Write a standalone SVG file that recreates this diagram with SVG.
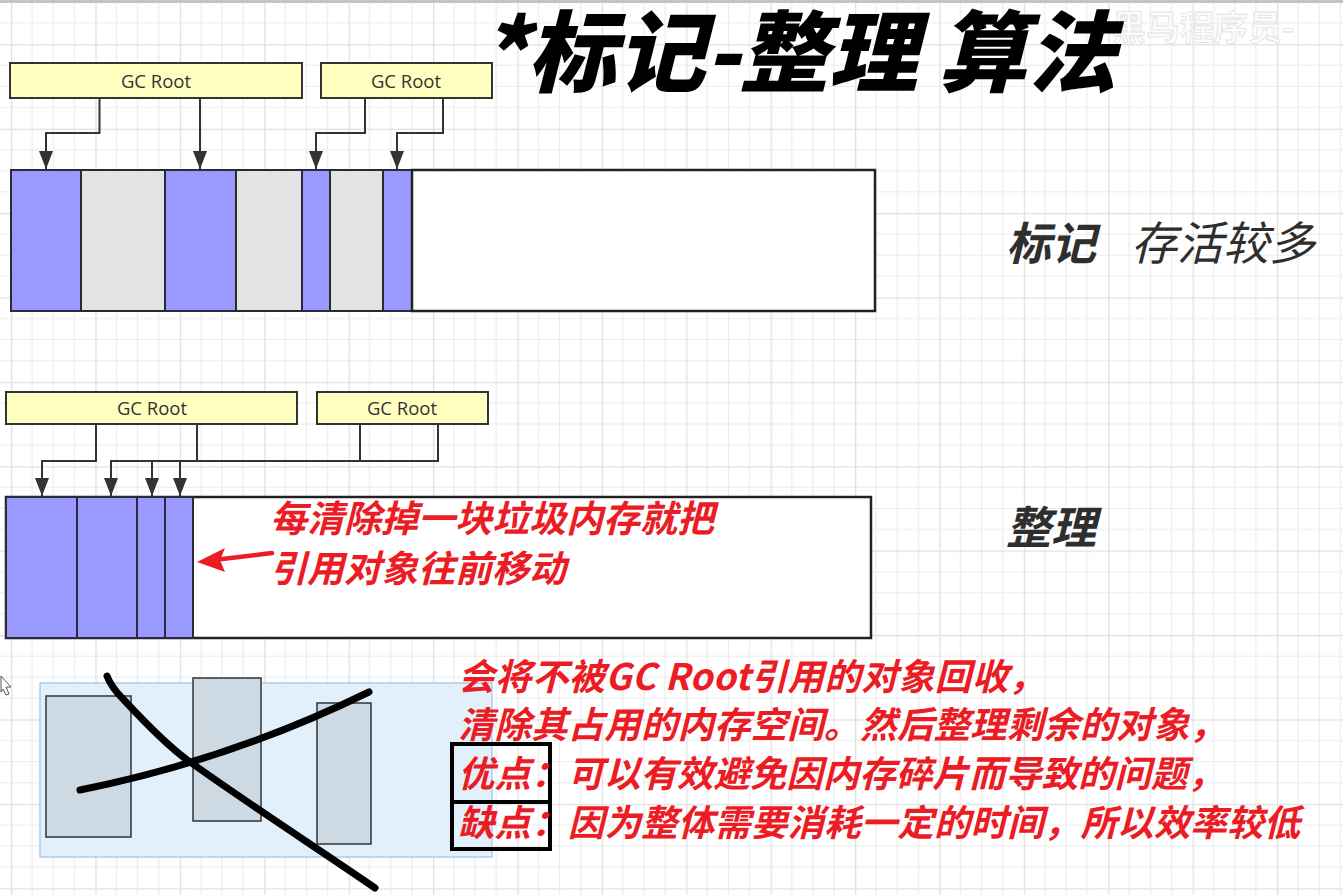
<svg xmlns="http://www.w3.org/2000/svg" width="1343" height="895" viewBox="0 0 1343 895">
<defs>
<pattern id="grid" patternUnits="userSpaceOnUse" x="11" y="44.2" width="84.4" height="84.4">
<path d="M21.1,0V84.4M42.2,0V84.4M63.3,0V84.4M0,21.1H84.4M0,42.2H84.4M0,63.3H84.4" stroke="#ebebeb" stroke-width="1.2" fill="none"/>
<path d="M0.6,0V84.4M0,0.6H84.4" stroke="#e0e0e0" stroke-width="1.4" fill="none"/>
</pattern>
<marker id="ah" viewBox="0 0 18 14" refX="18" refY="7" markerWidth="18" markerHeight="14" markerUnits="userSpaceOnUse" orient="auto">
<path d="M0,0 L18,7 L0,14 z" fill="#333"/>
</marker>
<style>
.root{fill:#ffffc0;stroke:#333;stroke-width:2}
.rt{font-family:"Open Sans","Noto Sans",sans-serif;font-size:18.5px;fill:#333;text-anchor:middle}
.con{fill:none;stroke:#333;stroke-width:2;marker-end:url(#ah)}
.line{fill:none;stroke:#333;stroke-width:2}
.live{fill:#9999ff;stroke:#2a2a3a;stroke-width:2}
.dead{fill:#e3e3e3;stroke:#2a2a2a;stroke-width:2}
.free{fill:#ffffff;stroke:#222;stroke-width:2.5}
.red{font-family:"Noto Sans CJK SC","Noto Sans",sans-serif;font-weight:700;font-style:italic;fill:#ec1c24}
.lbl{font-family:"Noto Sans CJK SC",sans-serif;font-style:italic;fill:#2e2e2e}
.blk{fill:#cdd9e3;stroke:#333;stroke-width:1.5}
.ink{fill:none;stroke:#000;stroke-width:7;stroke-linecap:round;stroke-linejoin:round}
</style>
</defs>
<rect width="1343" height="895" fill="#ffffff"/>
<rect width="1343" height="895" fill="url(#grid)"/>
<rect x="0" y="0" width="1343" height="3" fill="#c4c4c4"/>

<text x="1112" y="40" font-family="Noto Sans CJK SC,sans-serif" font-size="34" font-weight="700" fill="#fcfcfc" stroke="#e2e2e2" stroke-width="0.8">黑马程序员-</text>

<g id="title">
<text transform="translate(480,85) scale(1,1.08)" x="0" y="0" font-family="Noto Sans CJK SC,sans-serif" font-weight="900" font-style="italic" font-size="82" fill="#000" textLength="636" lengthAdjust="spacingAndGlyphs">*标记-整理 算法</text>
</g>

<!-- mark phase -->
<g id="root1"><rect class="root" x="10" y="63" width="292" height="35"/><text class="rt" x="156" y="88">GC Root</text></g>
<g id="root2"><rect class="root" x="321" y="63" width="171" height="35"/><text class="rt" x="406" y="88">GC Root</text></g>

<g id="heap1">
<rect class="live" x="11" y="170" width="70" height="141"/>
<rect class="dead" x="81" y="170" width="84" height="141"/>
<rect class="live" x="165" y="170" width="71" height="141"/>
<rect class="dead" x="236" y="170" width="66" height="141"/>
<rect class="live" x="302" y="170" width="28" height="141"/>
<rect class="dead" x="330" y="170" width="53" height="141"/>
<rect class="live" x="383" y="170" width="29" height="141"/>
<rect class="free" x="412" y="170" width="463" height="141"/>
</g>

<!-- compact phase -->
<g id="root3"><rect class="root" x="6" y="392" width="291" height="32"/><text class="rt" x="152" y="415">GC Root</text></g>
<g id="root4"><rect class="root" x="317" y="392" width="171" height="32"/><text class="rt" x="402" y="415">GC Root</text></g>

<g id="heap2">
<rect class="free" x="6" y="497" width="865" height="141"/>
<rect class="live" x="6" y="497" width="71" height="141"/>
<rect class="live" x="77" y="497" width="60" height="141"/>
<rect class="live" x="137" y="497" width="28" height="141"/>
<rect class="live" x="165" y="497" width="28" height="141"/>
</g>

<g id="connectors">
<path class="con" d="M99.5,98 V133 H46 V169"/>
<path class="con" d="M200,98 V169"/>
<path class="con" d="M365,98 V133 H316 V169"/>
<path class="con" d="M443,98 V133 H397 V169"/>
<path class="con" d="M96,424 V461 H42 V496"/>
<path class="line" d="M197,424 V461"/>
<path class="line" d="M360,424 V461"/>
<path class="con" d="M438,424 V461 H111 V496"/>
<path class="con" d="M152,461 V496"/>
<path class="con" d="M180,461 V496"/>
</g>

<g id="labels">
<text class="lbl" x="1006" y="260" font-size="45" font-weight="700">标记</text>
<text class="lbl" x="1131" y="260" font-size="46" font-weight="400">存活较多</text>
<text class="lbl" x="1006" y="544" font-size="45" font-weight="700">整理</text>
</g>

<g id="note1">
<path d="M272,553 L214,560" stroke="#ec1c24" stroke-width="4.5" fill="none" stroke-linecap="round"/>
<path d="M197,562 L225,548 L220,560 L225,572 z" fill="#ec1c24"/>
<text class="red" x="270" y="532" font-size="37">每清除掉一块垃圾内存就把</text>
<text class="red" x="270" y="582" font-size="37">引用对象往前移动</text>
</g>

<g id="crossed">
<rect x="40" y="683" width="452" height="174" fill="#e2f0fb" stroke="#9cc4e6" stroke-width="1.2"/>
<rect class="blk" x="46" y="696" width="85" height="141"/>
<rect class="blk" x="193" y="678" width="68" height="143"/>
<rect class="blk" x="317" y="703" width="54" height="141"/>
<path class="ink" d="M107,676 C110,684 114,690 124,700 C150,728 170,748 190,762 C250,805 320,850 375,888"/>
<path class="ink" d="M80,790 Q230,760 369,692"/>
</g>

<path d="M1,676 L11,687 L6,687 L9,694 L6,695 L3,689 L1,692 z" fill="#fff" stroke="#555" stroke-width="1"/>

<g id="note2">
<rect x="452" y="744" width="98" height="58" fill="none" stroke="#000" stroke-width="4"/>
<rect x="452" y="802" width="98" height="47" fill="none" stroke="#000" stroke-width="4"/>
<text class="red" x="458" y="690" font-size="36.5" textLength="587">会将不被GC Root引用的对象回收，</text>
<text class="red" x="458" y="738" font-size="36.5" textLength="768">清除其占用的内存空间。然后整理剩余的对象，</text>
<text class="red" x="458" y="787" font-size="36.5" textLength="766">优点：可以有效避免因内存碎片而导致的问题，</text>
<text class="red" x="458" y="836" font-size="36.5" textLength="842">缺点：因为整体需要消耗一定的时间，所以效率较低</text>
</g>
</svg>
